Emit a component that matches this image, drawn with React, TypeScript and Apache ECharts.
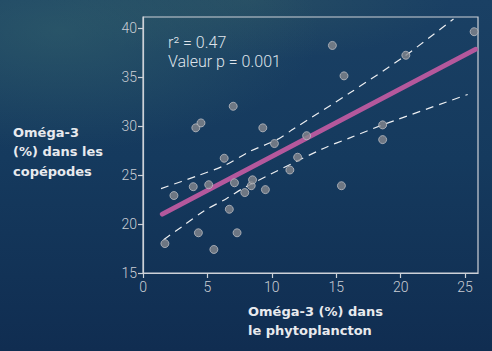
import React, { useEffect, useRef } from "react";
import * as echarts from "echarts";

const phytoX = [1.7, 2.4, 3.9, 4.1, 4.5, 4.3, 5.1, 5.5, 6.3, 7.0, 6.7, 7.1, 7.3, 7.9, 8.4, 8.5, 9.3, 9.5, 10.2, 11.4, 12.0, 12.7, 14.7, 15.6, 15.4, 18.6, 18.6, 20.4, 25.7];
const copepodY = [18.0, 22.9, 23.8, 29.8, 30.3, 19.1, 24.0, 17.4, 26.7, 32.0, 21.5, 24.2, 19.1, 23.2, 23.9, 24.5, 29.8, 23.5, 28.2, 25.5, 26.8, 29.0, 38.2, 35.1, 23.9, 30.1, 28.6, 37.2, 39.6];

const fitX = [1.5, 25.8];
const fitY = [21.0, 37.8];

const upperX = [1.4, 4.2, 6.4, 8.3, 10.4, 11.7, 16.1, 20.3, 24.1];
const upperY = [23.6, 24.9, 26.0, 27.4, 28.6, 29.7, 33.4, 37.1, 40.9];

const lowerX = [1.6, 3.0, 4.7, 6.5, 8.0, 14.0, 16.1, 18.6, 25.2];
const lowerY = [18.4, 19.7, 21.3, 22.6, 23.8, 27.7, 28.8, 30.1, 33.2];

const xTicks = [0, 5, 10, 15, 20, 25];
const yTicks = [15, 20, 25, 30, 35, 40];

const statsLines = ["r² = 0.47", "Valeur p = 0.001"];
const yTitleLines = ["Oméga-3", "(%) dans les", "copépodes"];
const xTitleLines = ["Oméga-3 (%) dans", "le phytoplancton"];

const zip = (a: number[], b: number[]) => a.map((v, i) => [v, b[i]]);

export default function App() {
  const ref = useRef<HTMLDivElement>(null);
  useEffect(() => {
    if (!ref.current) return;
    const chart = echarts.init(ref.current, undefined, { renderer: "svg" });
    const axisColor = "#cdd1d8";
    const labelStyle = { color: "#c9cdd4", fontSize: 14, fontFamily: "Roboto", fontWeight: 300 };
    chart.setOption({
      animation: false,
      backgroundColor: "transparent",
      grid: {
        left: 143,
        top: 17,
        right: 14,
        bottom: 78,
        show: true,
        borderColor: axisColor,
        borderWidth: 1.2,
        backgroundColor: "transparent",
      },
      xAxis: {
        type: "value",
        min: 0,
        max: 26,
        interval: 5,
        splitLine: { show: false },
        axisLine: { show: true, lineStyle: { color: axisColor, width: 1.2 } },
        axisTick: { show: true, length: 5, customValues: xTicks, lineStyle: { color: axisColor, width: 1.2 } },
        axisLabel: {
          ...labelStyle,
          margin: 7,
          customValues: xTicks,
          formatter: (v: number) => (v % 5 === 0 ? String(v) : ""),
        },
      },
      yAxis: {
        type: "value",
        min: 15,
        max: 41.1,
        interval: 5,
        splitLine: { show: false },
        axisLine: { show: true, lineStyle: { color: axisColor, width: 1.2 } },
        axisTick: { show: true, length: 5, customValues: yTicks, lineStyle: { color: axisColor, width: 1.2 } },
        axisLabel: {
          ...labelStyle,
          margin: 6,
          customValues: yTicks,
          formatter: (v: number) => (v % 5 === 0 ? String(v) : ""),
        },
      },
      graphic: [
        {
          type: "text",
          left: 168,
          top: 33,
          style: {
            text: statsLines.join("\n"),
            fill: "#dfe3ea",
            font: "300 16px Roboto",
            lineHeight: 19,
          },
        },
        {
          type: "text",
          left: 13,
          top: 123,
          style: {
            text: yTitleLines.join("\n"),
            fill: "#e8eaee",
            font: "bold 13px 'DejaVu Sans'",
            lineHeight: 19.3,
          },
        },
        {
          type: "text",
          left: 248,
          top: 301.5,
          style: {
            text: xTitleLines.join("\n"),
            fill: "#e8eaee",
            font: "bold 13px 'DejaVu Sans'",
            lineHeight: 19,
          },
        },
      ],
      series: [
        {
          type: "line",
          data: zip(upperX, upperY),
          smooth: 0.3,
          symbol: "none",
          clip: true,
          lineStyle: { color: "#eceef1", width: 1.2, type: [8, 6] },
          z: 2,
        },
        {
          type: "line",
          data: zip(lowerX, lowerY),
          smooth: 0.3,
          symbol: "none",
          clip: true,
          lineStyle: { color: "#eceef1", width: 1.2, type: [8, 6] },
          z: 2,
        },
        {
          type: "line",
          data: zip(fitX, fitY),
          symbol: "none",
          lineStyle: { color: "#b4589c", width: 5, cap: "round" },
          z: 3,
        },
        {
          type: "scatter",
          data: zip(phytoX, copepodY),
          symbol: "circle",
          symbolSize: 8,
          itemStyle: { color: "#84878d", borderColor: "#babdc3", borderWidth: 1 },
          z: 4,
        },
      ],
    });
    return () => chart.dispose();
  }, []);
  return (
    <div
      style={{
        position: "fixed",
        left: 0,
        top: 0,
        width: 492,
        height: 351,
        background:
          "radial-gradient(ellipse 260px 120px at 60px 30px, rgba(60,110,110,0.45), rgba(60,110,110,0) 100%), radial-gradient(ellipse 200px 60px at 250px 0px, rgba(60,100,100,0.35), rgba(60,100,100,0) 100%), linear-gradient(180deg, #1a4064 0%, #153a5e 45%, #102d51 100%)",
      }}
    >
      <div ref={ref} style={{ width: 492, height: 351 }} />
    </div>
  );
}
